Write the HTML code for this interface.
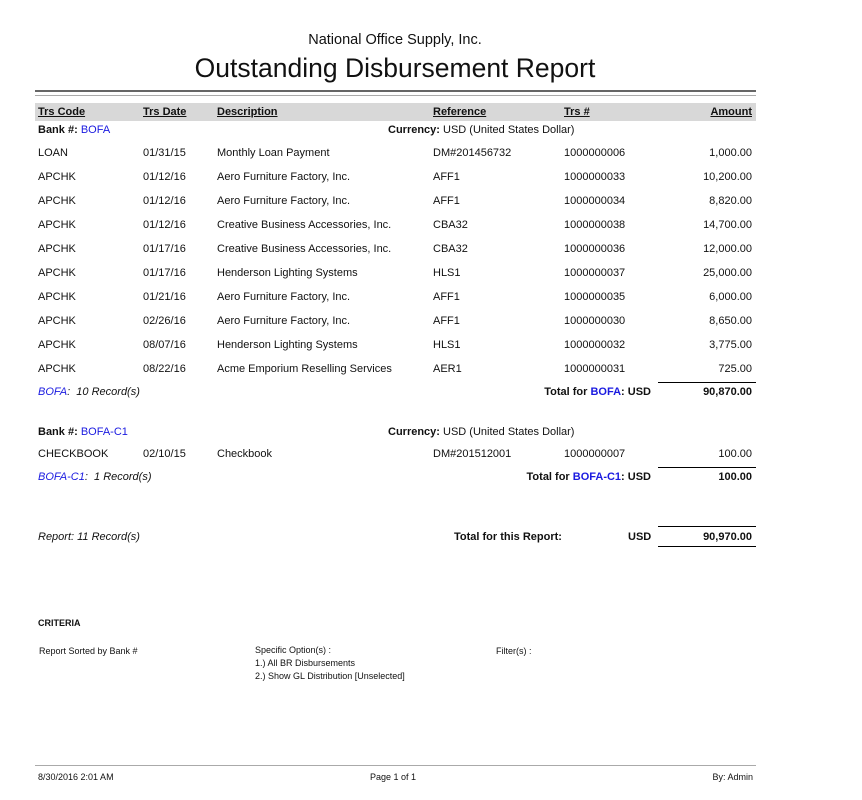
<!DOCTYPE html>
<html><head><meta charset="utf-8"><style>
body{margin:0;width:862px;height:800px;background:#fff;position:relative;font-family:"Liberation Sans",sans-serif;color:#111;overflow:hidden}
.t{position:absolute;font-size:11px;white-space:nowrap;line-height:14px}
.r{text-align:right}
.b{font-weight:bold}
.u{text-decoration:underline}
.bl{color:#1a1ae0}
.i{font-style:italic}
.ln{position:absolute;height:0;border-top:1px solid #000}
.s{font-size:9px}
</style></head><body>
<div class="t" style="left:0;width:790px;text-align:center;top:31px;font-size:14.5px;line-height:18px">National Office Supply, Inc.</div>
<div class="t" style="left:0;width:790px;text-align:center;top:52px;font-size:26.5px;line-height:32px">Outstanding Disbursement Report</div>
<div class="ln" style="left:35px;width:721px;top:90px;border-color:#666;border-width:2px 0 0"></div>
<div class="ln" style="left:35px;width:721px;top:95px;border-color:#aaa"></div>
<div style="position:absolute;left:35px;width:721px;top:103px;height:18px;background:#d8d8d8"></div>
<div class="t b u" style="left:38px;top:105px">Trs Code</div>
<div class="t b u" style="left:143px;top:105px">Trs Date</div>
<div class="t b u" style="left:217px;top:105px">Description</div>
<div class="t b u" style="left:433px;top:105px">Reference</div>
<div class="t b u" style="left:564px;top:105px">Trs #</div>
<div class="t b u r" style="left:652px;width:100px;top:105px">Amount</div>

<div class="t" style="left:38px;top:123px"><b>Bank #:</b> <span class="bl">BOFA</span></div>
<div class="t" style="left:388px;top:123px"><b>Currency:</b> USD (United States Dollar)</div>

<div id="rows"></div>
<script>
var d=[["LOAN","01/31/15","Monthly Loan Payment","DM#201456732","1000000006","1,000.00"],
["APCHK","01/12/16","Aero Furniture Factory, Inc.","AFF1","1000000033","10,200.00"],
["APCHK","01/12/16","Aero Furniture Factory, Inc.","AFF1","1000000034","8,820.00"],
["APCHK","01/12/16","Creative Business Accessories, Inc.","CBA32","1000000038","14,700.00"],
["APCHK","01/17/16","Creative Business Accessories, Inc.","CBA32","1000000036","12,000.00"],
["APCHK","01/17/16","Henderson Lighting Systems","HLS1","1000000037","25,000.00"],
["APCHK","01/21/16","Aero Furniture Factory, Inc.","AFF1","1000000035","6,000.00"],
["APCHK","02/26/16","Aero Furniture Factory, Inc.","AFF1","1000000030","8,650.00"],
["APCHK","08/07/16","Henderson Lighting Systems","HLS1","1000000032","3,775.00"],
["APCHK","08/22/16","Acme Emporium Reselling Services","AER1","1000000031","725.00"],
["CHECKBOOK","02/10/15","Checkbook","DM#201512001","1000000007","100.00"]];
var h="",xs=[38,143,217,433,564];
d.forEach(function(r,k){var y=k<10?146+24*k:447;
for(var j=0;j<5;j++)h+='<div class="t" style="left:'+xs[j]+'px;top:'+y+'px">'+r[j]+'</div>';
h+='<div class="t r" style="left:652px;width:100px;top:'+y+'px">'+r[5]+'</div>';});
document.getElementById("rows").innerHTML=h;
</script>

<div class="ln" style="left:658px;width:98px;top:382px"></div>
<div class="t bl i" style="left:38px;top:385px">BOFA<span style="color:#111">:&nbsp; 10 Record(s)</span></div>
<div class="t b r" style="left:450px;width:201px;top:385px">Total for <span class="bl">BOFA</span>: USD</div>
<div class="t b r" style="left:652px;width:100px;top:385px">90,870.00</div>

<div class="t" style="left:38px;top:425px"><b>Bank #:</b> <span class="bl">BOFA-C1</span></div>
<div class="t" style="left:388px;top:425px"><b>Currency:</b> USD (United States Dollar)</div>

<div class="ln" style="left:658px;width:98px;top:467px"></div>
<div class="t bl i" style="left:38px;top:470px">BOFA-C1<span style="color:#111">:&nbsp; 1 Record(s)</span></div>
<div class="t b r" style="left:450px;width:201px;top:470px">Total for <span class="bl">BOFA-C1</span>: USD</div>
<div class="t b r" style="left:652px;width:100px;top:470px">100.00</div>

<div class="ln" style="left:658px;width:98px;top:526px"></div>
<div class="ln" style="left:658px;width:98px;top:546px"></div>
<div class="t i" style="left:38px;top:530px">Report: 11 Record(s)</div>
<div class="t b" style="left:454px;top:530px">Total for this Report:</div>
<div class="t b" style="left:628px;top:530px">USD</div>
<div class="t b r" style="left:652px;width:100px;top:530px">90,970.00</div>

<div class="t b s" style="left:38px;top:616px">CRITERIA</div>
<div class="t s" style="left:39px;top:644px">Report Sorted by Bank #</div>
<div class="t s" style="left:255px;top:644px;line-height:13px">Specific Option(s) :<br>1.) All BR Disbursements<br>2.) Show GL Distribution [Unselected]</div>
<div class="t s" style="left:496px;top:644px">Filter(s) :</div>

<div class="ln" style="left:35px;width:721px;top:765px;border-color:#aaa"></div>
<div class="t s" style="left:38px;top:770px">8/30/2016 2:01 AM</div>
<div class="t s" style="left:370px;top:770px">Page 1 of 1</div>
<div class="t s r" style="left:650px;width:103px;top:770px">By: Admin</div>
</body></html>
